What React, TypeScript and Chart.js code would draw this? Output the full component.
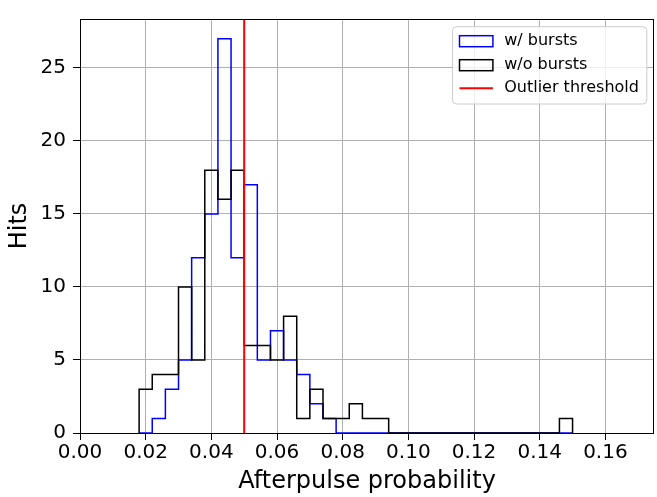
import React, { useEffect, useRef } from "react";
import { Chart, registerables } from "chart.js";

Chart.register(...registerables);

// Histogram binning (shared by both samples)
const binStart = 0.018;
const binWidth = 0.004;
const binCount = 33;

// Counts per bin, starting at binStart
const withBursts = [0, 1, 3, 5, 12, 15, 27, 12, 17, 5, 7, 5, 4, 2, 1, 0, 0, 0, 0, 0, 0, 0, 0, 0, 0, 0, 0, 0, 0, 0, 0, 0, 0];
const withoutBursts = [3, 4, 4, 10, 5, 18, 16, 18, 6, 6, 5, 8, 1, 3, 1, 1, 2, 1, 1, 0, 0, 0, 0, 0, 0, 0, 0, 0, 0, 0, 0, 0, 1];

const outlierThreshold = 0.05;

const xTicks = [0, 0.02, 0.04, 0.06, 0.08, 0.1, 0.12, 0.14, 0.16];
const yTicks = [0, 5, 10, 15, 20, 25];
const xMax = 0.1748;
const yMax = 28.35;

const seriesNames = ["w/ bursts", "w/o bursts", "Outlier threshold"];
const seriesColors = ["#0000ff", "#000000", "#ff0000"];

const FONT = "'DejaVu Sans', sans-serif";

const binEdges = Array.from({ length: binCount + 1 }, (_, i) =>
  Math.round((binStart + i * binWidth) * 10000) / 10000
);

// Outline of a histtype="step" histogram
function stepOutline(counts: number[]) {
  const pts: { x: number; y: number }[] = [{ x: binEdges[0], y: 0 }];
  counts.forEach((c, i) => {
    pts.push({ x: binEdges[i], y: c }, { x: binEdges[i + 1], y: c });
  });
  pts.push({ x: binEdges[counts.length], y: 0 });
  return pts;
}

const framePlugin = {
  id: "frame",
  afterDatasetsDraw(chart: any) {
    const { ctx, chartArea: a } = chart;
    ctx.save();
    ctx.strokeStyle = "#000";
    ctx.lineWidth = 1;
    ctx.strokeRect(Math.round(a.left) + 0.5, Math.round(a.top) + 0.5, Math.round(a.right - a.left) - 1, Math.round(a.bottom - a.top));
    ctx.restore();
  },
};

const boxLegendPlugin = {
  id: "boxLegend",
  afterDraw(chart: any) {
    const { ctx, chartArea: a } = chart;
    const left = a.right - 201.5;
    const top = a.top + 7.7;
    const w = 194.3;
    const h = 77.3;
    ctx.save();
    ctx.beginPath();
    ctx.roundRect(left, top, w, h, 4);
    ctx.fillStyle = "rgba(255,255,255,0.8)";
    ctx.fill();
    ctx.strokeStyle = "#cccccc";
    ctx.lineWidth = 1;
    ctx.stroke();

    const rows = [top + 14.5, top + 38.5, top + 61.6];
    const hx = left + 7;
    const hw = 33.4;
    ctx.font = `16px ${FONT}`;
    ctx.textBaseline = "middle";
    ctx.textAlign = "left";
    seriesNames.forEach((name, i) => {
      const y = rows[i];
      ctx.strokeStyle = seriesColors[i];
      if (i < 2) {
        ctx.lineWidth = 1.5;
        ctx.strokeRect(hx, y - 5.5, hw, 11);
      } else {
        ctx.lineWidth = 2;
        ctx.beginPath();
        ctx.moveTo(hx, y);
        ctx.lineTo(hx + hw, y);
        ctx.stroke();
      }
      ctx.fillStyle = "#000";
      ctx.fillText(name, left + 51.7, y);
    });
    ctx.restore();
  },
};

export default function App() {
  const canvasRef = useRef<HTMLCanvasElement | null>(null);

  useEffect(() => {
    if (!canvasRef.current) return;
    const tickFont = { family: FONT, size: 20 };
    const titleFont = { family: FONT, size: 24 };
    const chart = new Chart(canvasRef.current, {
      type: "line",
      data: {
        datasets: [
          {
            label: seriesNames[2],
            data: [
              { x: outlierThreshold, y: 0 },
              { x: outlierThreshold, y: yMax },
            ],
            borderColor: seriesColors[2],
            borderWidth: 2,
            order: 0,
          },
          {
            label: seriesNames[1],
            data: stepOutline(withoutBursts),
            borderColor: seriesColors[1],
            borderWidth: 1.5,
            order: 1,
          },
          {
            label: seriesNames[0],
            data: stepOutline(withBursts),
            borderColor: seriesColors[0],
            borderWidth: 1.5,
            order: 2,
          },
        ],
      },
      options: {
        animation: false,
        responsive: false,
        devicePixelRatio: 1,
        layout: { padding: { top: 5, right: 3, left: 0, bottom: 0 } },
        elements: { point: { radius: 0 }, line: { tension: 0, fill: false } },
        plugins: { legend: { display: false }, tooltip: { enabled: false } },
        scales: {
          x: {
            type: "linear",
            min: 0,
            max: xMax,
            afterBuildTicks: (s: any) => {
              s.ticks = xTicks.map((v) => ({ value: v }));
            },
            afterFit: (s: any) => {
              s.height = 64;
            },
            ticks: {
              callback: (v: any) => Number(v).toFixed(2),
              font: tickFont,
              color: "#000",
              padding: 1,
              maxRotation: 0,
              autoSkip: false,
            },
            grid: { color: "#b0b0b0", lineWidth: 1, tickLength: 7, tickColor: "#000" },
            border: { display: false },
            title: {
              display: true,
              text: "Afterpulse probability",
              font: titleFont,
              color: "#000",
              padding: { top: 0, bottom: 1 },
            },
          },
          y: {
            type: "linear",
            min: 0,
            max: yMax,
            afterBuildTicks: (s: any) => {
              s.ticks = yTicks.map((v) => ({ value: v }));
            },
            afterFit: (s: any) => {
              s.width = 80;
            },
            ticks: {
              callback: (v: any) => String(v),
              font: tickFont,
              color: "#000",
              padding: 7,
              autoSkip: false,
            },
            grid: { color: "#b0b0b0", lineWidth: 1, tickLength: 7, tickColor: "#000" },
            border: { display: false },
            title: {
              display: true,
              text: "Hits",
              font: titleFont,
              color: "#000",
              padding: { top: 5, bottom: 0 },
            },
          },
        },
      },
      plugins: [framePlugin, boxLegendPlugin],
    } as any);
    return () => chart.destroy();
  }, []);

  return (
    <div style={{ position: "fixed", left: 0, top: 0, width: 657, height: 497, background: "#fff" }}>
      <canvas ref={canvasRef} width={657} height={497} style={{ display: "block" }} />
    </div>
  );
}
